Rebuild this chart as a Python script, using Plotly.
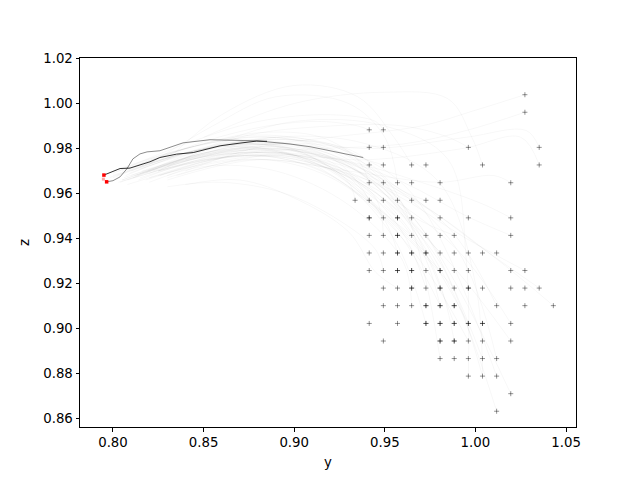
import plotly.graph_objects as go

# ---------------- data ----------------
# quantised observations ("+" markers); repeated entries are overlapping points
dot_x = [
    1.0273,
    1.0273,
    0.9414, 0.9492,
    0.9414, 0.9492, 0.9961, 1.0352,
    0.9414, 0.9492, 0.9648, 0.9727, 1.0039, 1.0352,
    0.9414, 0.9492, 0.9570, 0.9648, 0.9805, 1.0195,
    0.9336, 0.9414, 0.9492, 0.9570, 0.9648, 0.9727, 0.9805,
    0.9414, 0.9414, 0.9492, 0.9570, 0.9570, 0.9648, 0.9805, 0.9961, 1.0195,
    0.9414, 0.9492, 0.9570, 0.9570, 0.9648, 0.9727, 0.9805, 0.9883, 1.0195,
    0.9414, 0.9492, 0.9570, 0.9570, 0.9648, 0.9648, 0.9727, 0.9727, 0.9805, 0.9883, 0.9961, 1.0039, 1.0117,
    0.9414, 0.9492, 0.9570, 0.9570, 0.9648, 0.9648, 0.9727, 0.9805, 0.9805, 0.9883, 0.9961, 1.0195, 1.0273,
    0.9492, 0.9570, 0.9648, 0.9648, 0.9727, 0.9805, 0.9805, 0.9883, 0.9961, 0.9961, 1.0039, 1.0195, 1.0273, 1.0352,
    0.9492, 0.9570, 0.9648, 0.9727, 0.9727, 0.9805, 0.9805, 0.9883, 0.9883, 1.0117, 1.0273, 1.0430,
    0.9414, 0.9570, 0.9727, 0.9727, 0.9805, 0.9805, 0.9883, 0.9883, 0.9961, 0.9961, 1.0039, 1.0039, 1.0195,
    0.9492, 0.9805, 0.9805, 0.9883, 0.9883, 0.9961, 1.0039, 1.0195,
    0.9805, 0.9883, 0.9961, 1.0039, 1.0117,
    0.9961, 1.0039, 1.0117,
    1.0195,
    1.0117,
]
dot_y = [
    1.0039,
    0.9961,
    0.9883, 0.9883,
    0.9805, 0.9805, 0.9805, 0.9805,
    0.9727, 0.9727, 0.9727, 0.9727, 0.9727, 0.9727,
    0.9648, 0.9648, 0.9648, 0.9648, 0.9648, 0.9648,
    0.9570, 0.9570, 0.9570, 0.9570, 0.9570, 0.9570, 0.9570,
    0.9492, 0.9492, 0.9492, 0.9492, 0.9492, 0.9492, 0.9492, 0.9492, 0.9492,
    0.9414, 0.9414, 0.9414, 0.9414, 0.9414, 0.9414, 0.9414, 0.9414, 0.9414,
    0.9336, 0.9336, 0.9336, 0.9336, 0.9336, 0.9336, 0.9336, 0.9336, 0.9336, 0.9336, 0.9336, 0.9336, 0.9336,
    0.9258, 0.9258, 0.9258, 0.9258, 0.9258, 0.9258, 0.9258, 0.9258, 0.9258, 0.9258, 0.9258, 0.9258, 0.9258,
    0.9180, 0.9180, 0.9180, 0.9180, 0.9180, 0.9180, 0.9180, 0.9180, 0.9180, 0.9180, 0.9180, 0.9180, 0.9180, 0.9180,
    0.9102, 0.9102, 0.9102, 0.9102, 0.9102, 0.9102, 0.9102, 0.9102, 0.9102, 0.9102, 0.9102, 0.9102,
    0.9023, 0.9023, 0.9023, 0.9023, 0.9023, 0.9023, 0.9023, 0.9023, 0.9023, 0.9023, 0.9023, 0.9023, 0.9023,
    0.8945, 0.8945, 0.8945, 0.8945, 0.8945, 0.8945, 0.8945, 0.8945,
    0.8867, 0.8867, 0.8867, 0.8867, 0.8867,
    0.8789, 0.8789, 0.8789,
    0.8711,
    0.8633,
]

# faint trajectories (one list per trajectory)
traj_x = [
    [0.800, 0.830, 0.865, 0.900, 0.930, 0.9570],
    [0.805, 0.840, 0.875, 0.905, 0.935, 0.9648],
    [0.810, 0.845, 0.880, 0.915, 0.945, 0.9727],
    [0.798, 0.835, 0.870, 0.905, 0.940, 0.9805],
    [0.815, 0.850, 0.885, 0.920, 0.950, 0.9883],
    [0.803, 0.840, 0.880, 0.920, 0.955, 0.9805],
    [0.812, 0.850, 0.890, 0.930, 0.960, 0.9883],
    [0.820, 0.855, 0.890, 0.925, 0.955, 0.9727],
    [0.800, 0.835, 0.875, 0.915, 0.950, 0.9961],
    [0.808, 0.845, 0.885, 0.925, 0.965, 0.9961],
    [0.815, 0.855, 0.895, 0.935, 0.970, 1.0039],
    [0.825, 0.860, 0.895, 0.935, 0.975, 0.9883],
    [0.805, 0.840, 0.880, 0.925, 0.965, 1.0117],
    [0.818, 0.855, 0.895, 0.940, 0.980, 1.0039],
    [0.800, 0.840, 0.880, 0.920, 0.955, 0.9805],
    [0.810, 0.848, 0.885, 0.925, 0.965, 1.0195],
    [0.822, 0.860, 0.900, 0.945, 0.985, 1.0117],
    [0.805, 0.845, 0.885, 0.925, 0.945, 0.9492],
    [0.813, 0.850, 0.885, 0.920, 0.935, 0.9414],
    [0.800, 0.840, 0.875, 0.905, 0.930, 0.9336],
    [0.808, 0.845, 0.880, 0.915, 0.935, 0.9414],
    [0.818, 0.855, 0.890, 0.920, 0.940, 0.9492],
    [0.815, 0.850, 0.885, 0.915, 0.935, 0.9414],
    [0.803, 0.840, 0.880, 0.920, 0.945, 0.9492],
    [0.830, 0.860, 0.900, 0.935, 0.955, 0.9648],
    [0.820, 0.855, 0.890, 0.930, 0.950, 0.9570],
    [0.830, 0.870, 0.920, 0.970, 1.000, 1.0273],
    [0.825, 0.870, 0.915, 0.960, 0.995, 1.0273],
    [0.835, 0.885, 0.940, 0.993, 1.025, 1.0352],
    [0.840, 0.890, 0.945, 0.995, 1.028, 1.0352],
    [0.830, 0.880, 0.930, 0.980, 1.010, 1.0195],
    [0.850, 0.900, 0.950, 0.985, 0.998, 1.0039],
    [0.825, 0.870, 0.920, 0.960, 0.985, 0.9961],
    [0.830, 0.875, 0.925, 0.970, 1.005, 1.0195],
    [0.820, 0.865, 0.915, 0.960, 0.995, 1.0195],
    [0.815, 0.860, 0.910, 0.955, 0.995, 1.0273],
    [0.825, 0.870, 0.920, 0.965, 1.005, 1.0352],
    [0.830, 0.875, 0.925, 0.970, 1.010, 1.0430],
    [0.812, 0.855, 0.900, 0.945, 0.990, 1.0195],
    [0.808, 0.850, 0.895, 0.940, 0.985, 1.0195],
    [0.816, 0.858, 0.900, 0.945, 0.990, 1.0117],
    [0.806, 0.848, 0.892, 0.940, 0.985, 1.0117],
    [0.830, 0.860, 0.895, 0.925, 0.945, 0.9492],
    [0.840, 0.870, 0.900, 0.930, 0.945, 0.9570],
    [0.820, 0.850, 0.890, 0.930, 0.960, 0.9648],
    [0.826, 0.862, 0.900, 0.940, 0.970, 0.9805],
    [0.802, 0.840, 0.878, 0.918, 0.958, 0.9727],
    [0.809, 0.846, 0.884, 0.924, 0.962, 0.9805],
    [0.814, 0.852, 0.890, 0.930, 0.965, 0.9883],
    [0.804, 0.842, 0.882, 0.922, 0.950, 0.9570],
    [0.811, 0.850, 0.888, 0.926, 0.955, 0.9648],
    [0.819, 0.856, 0.894, 0.932, 0.958, 0.9727],
    [0.807, 0.845, 0.885, 0.925, 0.950, 0.9570],
    [0.850, 0.900, 0.950, 0.985, 0.995, 0.9961],
    [0.840, 0.890, 0.940, 0.980, 1.000, 1.0039],
]
traj_y = [
    [0.968, 0.976, 0.981, 0.977, 0.966, 0.9492],
    [0.966, 0.975, 0.980, 0.975, 0.960, 0.9414],
    [0.970, 0.979, 0.982, 0.974, 0.955, 0.9336],
    [0.967, 0.977, 0.983, 0.978, 0.958, 0.9258],
    [0.969, 0.978, 0.980, 0.970, 0.950, 0.9180],
    [0.965, 0.973, 0.977, 0.968, 0.945, 0.9102],
    [0.972, 0.982, 0.985, 0.975, 0.952, 0.9023],
    [0.967, 0.975, 0.976, 0.966, 0.940, 0.9023],
    [0.969, 0.979, 0.984, 0.978, 0.960, 0.9023],
    [0.964, 0.972, 0.975, 0.965, 0.935, 0.8945],
    [0.971, 0.980, 0.982, 0.972, 0.945, 0.8867],
    [0.968, 0.976, 0.978, 0.967, 0.930, 0.8945],
    [0.970, 0.980, 0.986, 0.980, 0.960, 0.8789],
    [0.966, 0.974, 0.976, 0.963, 0.930, 0.8789],
    [0.970, 0.980, 0.985, 0.980, 0.962, 0.8867],
    [0.968, 0.977, 0.981, 0.974, 0.950, 0.8711],
    [0.970, 0.978, 0.979, 0.965, 0.920, 0.8633],
    [0.966, 0.976, 0.979, 0.970, 0.958, 0.9414],
    [0.968, 0.978, 0.982, 0.976, 0.965, 0.9570],
    [0.967, 0.978, 0.982, 0.978, 0.965, 0.9570],
    [0.971, 0.981, 0.987, 0.985, 0.975, 0.9648],
    [0.969, 0.980, 0.985, 0.982, 0.975, 0.9727],
    [0.972, 0.983, 0.990, 0.992, 0.990, 0.9883],
    [0.970, 0.982, 0.992, 0.995, 0.992, 0.9883],
    [0.975, 0.995, 1.008, 1.003, 0.985, 0.9727],
    [0.973, 0.990, 1.003, 1.000, 0.985, 0.9648],
    [0.972, 0.980, 0.985, 0.990, 0.997, 1.0039],
    [0.970, 0.978, 0.980, 0.982, 0.988, 0.9961],
    [0.968, 0.977, 0.975, 0.980, 0.985, 0.9727],
    [0.970, 0.982, 0.980, 0.985, 0.988, 0.9805],
    [0.966, 0.975, 0.970, 0.965, 0.968, 0.9648],
    [0.985, 1.000, 1.005, 1.002, 0.985, 0.9727],
    [0.970, 0.985, 0.990, 0.990, 0.985, 0.9805],
    [0.968, 0.978, 0.975, 0.965, 0.955, 0.9492],
    [0.969, 0.979, 0.977, 0.965, 0.950, 0.9414],
    [0.967, 0.976, 0.975, 0.960, 0.940, 0.9258],
    [0.970, 0.978, 0.974, 0.958, 0.935, 0.9180],
    [0.967, 0.975, 0.970, 0.955, 0.932, 0.9102],
    [0.968, 0.977, 0.977, 0.962, 0.935, 0.9023],
    [0.966, 0.975, 0.976, 0.963, 0.930, 0.8945],
    [0.970, 0.979, 0.980, 0.968, 0.935, 0.8867],
    [0.967, 0.977, 0.980, 0.970, 0.945, 0.9102],
    [0.963, 0.965, 0.960, 0.948, 0.935, 0.9258],
    [0.964, 0.966, 0.958, 0.943, 0.925, 0.9180],
    [0.965, 0.972, 0.970, 0.955, 0.930, 0.9102],
    [0.968, 0.976, 0.976, 0.962, 0.935, 0.9102],
    [0.968, 0.978, 0.982, 0.975, 0.945, 0.9180],
    [0.969, 0.979, 0.983, 0.976, 0.950, 0.9336],
    [0.966, 0.976, 0.980, 0.972, 0.950, 0.9414],
    [0.965, 0.975, 0.978, 0.972, 0.948, 0.9336],
    [0.967, 0.978, 0.982, 0.978, 0.960, 0.9492],
    [0.970, 0.981, 0.984, 0.979, 0.962, 0.9570],
    [0.968, 0.979, 0.984, 0.980, 0.965, 0.9570],
    [0.980, 0.992, 0.990, 0.975, 0.930, 0.8789],
    [0.975, 0.985, 0.982, 0.965, 0.920, 0.8789],
]

# two highlighted trajectories
dark_x = [0.7950, 0.8039, 0.8094, 0.8204, 0.8259, 0.8351, 0.8443, 0.8591, 0.8701, 0.8793, 0.8850]
dark_y = [0.9682, 0.9711, 0.9713, 0.9741, 0.9760, 0.9775, 0.9782, 0.9812, 0.9824, 0.9833, 0.9832]
grey_x = [0.7965, 0.8000, 0.8039, 0.8077, 0.8110, 0.8149, 0.8188, 0.8259, 0.8386, 0.8535,
          0.8795, 0.8977, 0.9087, 0.9198, 0.9308, 0.9381]
grey_y = [0.9652, 0.9657, 0.9674, 0.9710, 0.9754, 0.9776, 0.9785, 0.9790, 0.9825, 0.9839,
          0.9834, 0.9820, 0.9808, 0.9790, 0.9771, 0.9760]

# start points
red_x = [0.7950, 0.7965]
red_y = [0.9682, 0.9652]
pink_x = [0.7947]
pink_y = [0.9664]

# ---------------- figure ----------------
fig = go.Figure()

for tx, ty in zip(traj_x, traj_y):
    fig.add_trace(go.Scatter(
        x=tx, y=ty, mode="lines",
        line=dict(color="rgba(0,0,0,0.04)", width=0.9, shape="spline", smoothing=1.0),
        hoverinfo="skip", showlegend=False))

fig.add_trace(go.Scatter(x=grey_x, y=grey_y, mode="lines",
                         line=dict(color="rgba(0,0,0,0.45)", width=1),
                         showlegend=False))
fig.add_trace(go.Scatter(x=dark_x, y=dark_y, mode="lines",
                         line=dict(color="rgba(0,0,0,0.8)", width=1),
                         showlegend=False))

fig.add_trace(go.Scatter(
    x=dot_x, y=dot_y, mode="markers",
    marker=dict(symbol="cross-thin", size=3.6,
                line=dict(color="rgba(0,0,0,0.42)", width=1)),
    showlegend=False))

fig.add_trace(go.Scatter(x=pink_x, y=pink_y, mode="markers",
                         marker=dict(symbol="square", size=3, color="rgba(255,0,0,0.35)"),
                         showlegend=False))
fig.add_trace(go.Scatter(x=red_x, y=red_y, mode="markers",
                         marker=dict(symbol="square", size=3.5, color="red"),
                         showlegend=False))

axis_common = dict(
    showgrid=False, zeroline=False,
    showline=True, linecolor="black", linewidth=1, mirror=True,
    ticks="outside", ticklen=3.5, tickwidth=0.8, tickcolor="black",
    tickfont=dict(family="DejaVu Sans", size=13.3, color="black"),
    tickformat=".2f",
)

# page body has an 8px margin, so shift the plot area accordingly
fig.update_layout(
    width=640, height=480,
    margin=dict(l=72, r=72, t=50, b=61),
    paper_bgcolor="white", plot_bgcolor="white",
    font=dict(family="DejaVu Sans", color="black"),
    xaxis=dict(range=[0.7818, 1.0555], tick0=0.8, dtick=0.05,
               title=dict(text="y", font=dict(family="DejaVu Sans", size=13.3), standoff=8),
               **axis_common),
    yaxis=dict(range=[0.8563, 1.0202], tick0=0.86, dtick=0.02,
               title=dict(text="z", font=dict(family="DejaVu Sans", size=13.3), standoff=10),
               **axis_common),
)

fig.write_html("out.html")
